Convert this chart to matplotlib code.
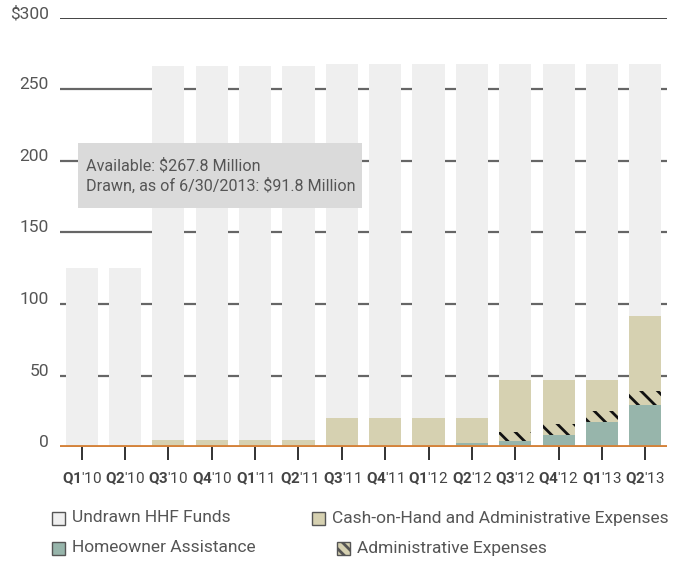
import matplotlib
matplotlib.use("Agg")
import matplotlib.pyplot as plt
from matplotlib.patches import Rectangle
from matplotlib import font_manager

# Quarterly HHF fund status, $ millions
quarters = ["Q1'10", "Q2'10", "Q3'10", "Q4'10", "Q1'11", "Q2'11", "Q3'11",
            "Q4'11", "Q1'12", "Q2'12", "Q3'12", "Q4'12", "Q1'13", "Q2'13"]
available = [125.0, 125.0, 266.5, 266.5, 266.5, 266.5, 267.8,
             267.8, 267.8, 267.8, 267.8, 267.8, 267.8, 267.8]
drawn = [0.0, 0.0, 5.0, 5.0, 5.0, 5.0, 20.6,
         20.6, 20.6, 20.6, 47.2, 47.2, 47.2, 91.8]
homeowner = [0.0, 0.0, 0.0, 0.0, 0.0, 0.0, 0.0,
             0.0, 1.0, 3.0, 4.3, 8.5, 17.6, 29.6]
admin = [0.0, 0.0, 0.0, 0.0, 0.0, 0.0, 0.0,
         0.0, 0.0, 0.0, 6.4, 7.9, 7.8, 9.3]
y_ticks = [0, 50, 100, 150, 200, 250, 300]
y_labels = ["0", "50", "100", "150", "200", "250", "$300"]
legend_labels = ["Undrawn HHF Funds", "Cash-on-Hand and Administrative Expenses",
                 "Homeowner Assistance", "Administrative Expenses"]
note_lines = ["Available: $267.8 Million", "Drawn, as of 6/30/2013: $91.8 Million"]

available_fonts = {f.name for f in font_manager.fontManager.ttflist}
FONT = "Liberation Sans Narrow" if "Liberation Sans Narrow" in available_fonts else "Roboto"
plt.rcParams["font.family"] = [FONT, "DejaVu Sans"]
plt.rcParams["mathtext.fontset"] = "custom"
plt.rcParams["mathtext.rm"] = FONT
plt.rcParams["mathtext.bf"] = FONT + ":bold"
plt.rcParams["hatch.linewidth"] = 2.0
plt.rcParams["hatch.color"] = "#111111"

C_UNDRAWN = "#efefef"
C_CASH = "#d6d1b1"
C_HOME = "#97b5ab"
C_AXIS = "#d4823a"
C_TEXT = "#555555"

fig = plt.figure(figsize=(6.85, 5.62), dpi=100)
ax = fig.add_axes([60 / 685, (562 - 447) / 562, (667 - 60) / 685, (447 - 18) / 562])

x = list(range(len(quarters)))
w = 0.74
base_cash = [h + a for h, a in zip(homeowner, admin)]

ax.bar(x, available, width=w, color=C_UNDRAWN, zorder=2, linewidth=0)
ax.bar(x, [d - b for d, b in zip(drawn, base_cash)], bottom=base_cash,
       width=w, color=C_CASH, zorder=3, linewidth=0)
ax.bar(x, homeowner, width=w, color=C_HOME, zorder=3, linewidth=0)
ax.bar(x, admin, bottom=homeowner, width=w, color=C_CASH, hatch="\\\\",
       edgecolor="#111111", linewidth=0, zorder=3)

ax.set_xlim(-0.5, len(quarters) - 0.5)
ax.set_ylim(0, 300)

# horizontal rules
for v in y_ticks[1:-1]:
    ax.axhline(v, color="#666666", lw=1.6, zorder=1)
ax.axhline(300, color="#111111", lw=1.1, zorder=1)
ax.axhline(0, color=C_AXIS, lw=3.5, zorder=5)

for s in ax.spines.values():
    s.set_visible(False)

ax.set_yticks(y_ticks)
ax.set_yticklabels(y_labels, fontsize=12.5, color=C_TEXT)
ax.tick_params(axis="y", length=0, pad=8)
for lab in ax.get_yticklabels():
    lab.set_verticalalignment("baseline")

ax.set_xticks(x)
ax.set_xticklabels([r"$\mathbf{%s}$'%s" % (q.split("'")[0], q.split("'")[1]) for q in quarters],
                   fontsize=11, color="#444444")
ax.tick_params(axis="x", length=9, width=1.3, color="#222222", pad=8)

# summary note
ax.add_patch(Rectangle((78 / 685, (562 - 208) / 562), (362 - 78) / 685, 65 / 562,
                       transform=fig.transFigure, facecolor="#dadada",
                       edgecolor="none", zorder=6))
fig.text(86 / 685, (562 - 166) / 562, note_lines[0], fontsize=11.6, color=C_TEXT,
         va="center", ha="left", zorder=7)
fig.text(86 / 685, (562 - 186) / 562, note_lines[1], fontsize=11.6, color=C_TEXT,
         va="center", ha="left", zorder=7)

# legend
legend_items = [
    (52, 518, C_UNDRAWN, None, legend_labels[0]),
    (312, 518, C_CASH, None, legend_labels[1]),
    (52, 548, C_HOME, None, legend_labels[2]),
    (337, 548, C_CASH, "\\\\\\", legend_labels[3]),
]
for px, py, col, hatch, label in legend_items:
    fig.patches.append(Rectangle((px / 685, (562 - py - 6.5) / 562), 13 / 685, 13 / 562,
                                 transform=fig.transFigure, facecolor=col,
                                 edgecolor="#555555", linewidth=1.0, hatch=hatch))
    fig.text((px + 20) / 685, (562 - py) / 562, label, fontsize=12.5, color=C_TEXT,
             va="center", ha="left")

fig.savefig("out.png", dpi=100)
